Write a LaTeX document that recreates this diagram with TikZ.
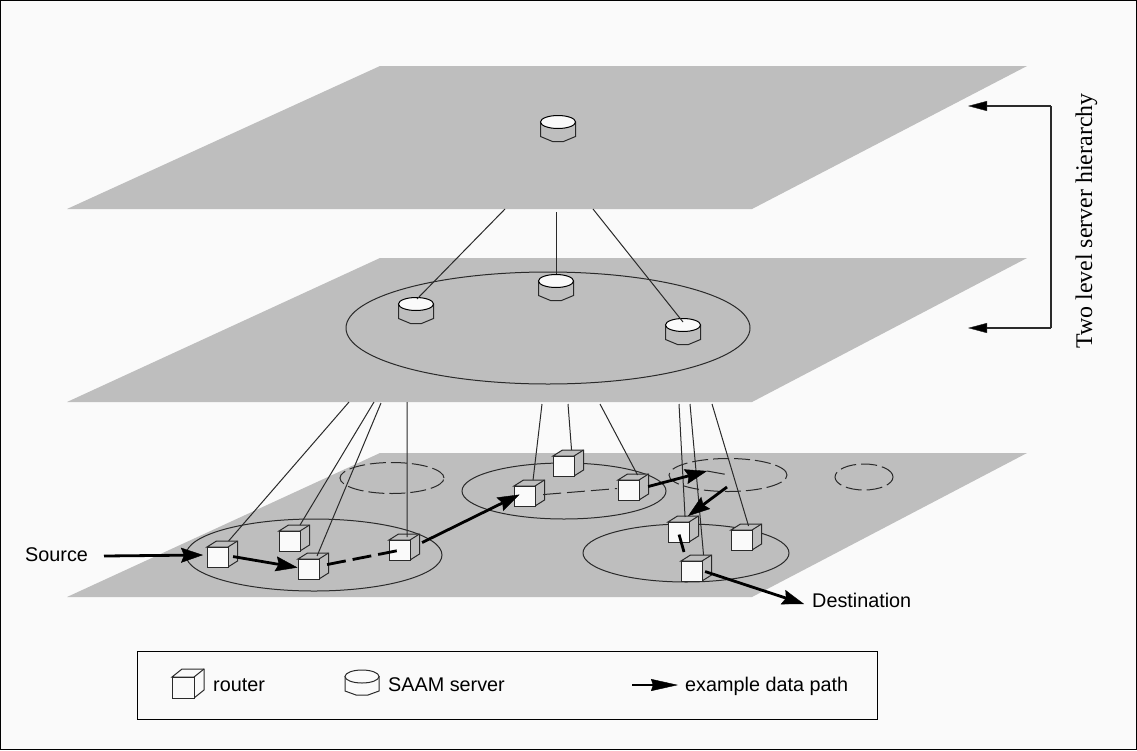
\documentclass[tikz,border=0pt]{standalone}
\usepackage{fontspec}
\setmainfont{Liberation Sans}
\newfontfamily\serifface{Liberation Serif}
\usetikzlibrary{shapes.geometric,arrows.meta,calc}
\definecolor{paper}{HTML}{FAFAFA}
\definecolor{plane}{HTML}{BEBEBE}
\definecolor{ink}{HTML}{2A2A2A}
\tikzset{
  planeshape/.style={fill=plane,draw=none},
  wire/.style={draw=ink,line width=1pt},
  cluster/.style={draw=ink,line width=1pt},
  dashcluster/.style={cluster,dash pattern=on 16pt off 5pt},
  frontface/.style={rectangle,draw=ink,line width=1.1pt,fill=paper,inner sep=0pt,minimum width=21pt,minimum height=20pt},
  srvtop/.style={ellipse,draw=black,line width=1pt,fill=paper,inner sep=0pt,minimum width=35pt,minimum height=13pt},
  datapath/.style={draw=black,line width=2.8pt,-{Stealth[length=22pt,width=15pt,inset=3pt,line width=0.4pt]}},
  legendpath/.style={draw=black,line width=2.6pt,-{Stealth[length=27pt,width=12pt,inset=2pt,line width=0.4pt]}},
  datadash/.style={draw=black,line width=2.8pt,dash pattern=on 19pt off 7pt},
  thindash/.style={draw=ink,line width=1pt,dash pattern=on 18pt off 6pt},
  label/.style={inner sep=0pt,font=\fontsize{19.8}{22}\selectfont},
  bracketarrow/.style={draw=ink,line width=1.1pt,-{Stealth[length=19pt,width=10pt,inset=0pt,line width=0.4pt,fill=black]}},
  box/.style={draw=black,line width=1pt,fill=paper}
}
\newcommand{\cubebox}[3]{%
  \draw[wire,fill=plane] (#2,#3) -- ++(9.5,-6) -- ++(21,0) -- ++(0,20) -- ++(-9.5,6) -- ++(0,-20) -- ++(-21,0) -- cycle;
  \draw[wire] (#2+21,#3) -- ++(9.5,-6);
  \node[frontface,anchor=north west] (#1) at (#2,#3) {};
}
\newcommand{\srvbox}[3]{%
  \draw[wire,fill=plane] (#2-17.5,#3) -- ++(0,14.5) -- ++(12,5) -- ++(11,0) -- ++(12,-5) -- ++(0,-14.5) -- cycle;
  \node[srvtop] (#1) at (#2,#3) {};
}
\begin{document}
\begin{tikzpicture}[x=1pt,y=-1pt]
\useasboundingbox (0,0) rectangle (1137,750);
\draw[draw=black,line width=1pt,fill=paper] (0.5,0.5) rectangle (1136.5,749.5);
% planes
\fill[planeshape] (380,66) -- (1027,66) -- (752,209) -- (67,209) -- cycle;
\fill[planeshape] (380,258) -- (1027,258) -- (752,402) -- (67,402) -- cycle;
\fill[planeshape] (380,453) -- (1027,453) -- (752,597) -- (67,597) -- cycle;
% ellipses
\node[ellipse,cluster,inner sep=0pt,minimum width=404pt,minimum height=112pt] (e0) at (548,328) {};
\node[ellipse,cluster,inner sep=0pt,minimum width=256pt,minimum height=72pt] (e1) at (314,555) {};
\node[ellipse,cluster,inner sep=0pt,minimum width=204pt,minimum height=56pt] (e2) at (564,491) {};
\node[ellipse,cluster,inner sep=0pt,minimum width=206pt,minimum height=58pt] (e3) at (686,553) {};
\node[ellipse,dashcluster,inner sep=0pt,minimum width=104pt,minimum height=31pt] (d1) at (392,478) {};
\node[ellipse,dashcluster,inner sep=0pt,minimum width=118pt,minimum height=33pt] (d2) at (728,475) {};
\node[ellipse,dashcluster,inner sep=0pt,minimum width=58pt,minimum height=26pt] (d3) at (864,477) {};
% servers
\srvbox{s0}{558}{122}
\srvbox{s1}{416}{304}
\srvbox{s2}{556}{281}
\srvbox{s3}{683}{325}
% routers
\cubebox{r1}{207}{547}
\cubebox{r2}{279}{531}
\cubebox{r3}{298}{559}
\cubebox{r4}{389}{540}
\cubebox{r5}{514}{486}
\cubebox{r6}{553}{456}
\cubebox{r7}{618}{480}
\cubebox{r8}{668}{522}
\cubebox{r9}{731}{530}
\cubebox{r10}{681}{561}
% free ends of the links
\coordinate (ua) at (505,209);
\coordinate (ub) at (556,212);
\coordinate (uc) at (593,209);
\coordinate (la) at (349,402);
\coordinate (lb) at (374,402);
\coordinate (lc) at (381,403);
\coordinate (ld) at (407,402);
\coordinate (le) at (542,404);
\coordinate (lf) at (568,404);
\coordinate (lg) at (600,404);
\coordinate (lh) at (679,404);
\coordinate (li) at (690,404);
\coordinate (lj) at (712,404);
\draw[wire] (ua) -- ([shift={(1,2)}]s1.north);
\draw[wire] (ub) -- ([shift={(0,0)}]s2.north);
\draw[wire] (uc) -- ([shift={(0,4)}]s3.north);
\draw[wire] (la) -- ([shift={(10.5,-6)}]r1.north);
\draw[wire] (lb) -- ([shift={(10,-6)}]r2.north);
\draw[wire] (lc) -- ([shift={(8,-3)}]r3.north);
\draw[wire] (ld) -- ([shift={(7,-3)}]r4.north);
\draw[wire] (le) -- ([shift={(8,-6)}]r5.north);
\draw[wire] (lf) -- ([shift={(7.5,-6)}]r6.north);
\draw[wire] (lg) -- ([shift={(8.5,-5)}]r7.north);
\draw[wire] (lh) -- ([shift={(6,-5)}]r8.north);
\draw[wire] (li) -- ([shift={(11.5,-6)}]r10.north);
\draw[wire] (lj) -- ([shift={(6.5,-4)}]r9.north);
% data path
\coordinate (src) at (104,556);
\coordinate (srctip) at (203,555);
\coordinate (w1) at (707,471);
\coordinate (w2) at (729,475);
\coordinate (w3) at (727,487);
\coordinate (w4) at (684,552);
\coordinate (dst) at (804,604);
\draw[datapath] (src) -- (srctip);
\draw[datapath] ([shift={(4,-1)}]r1.east) -- ([shift={(-0.5,-2)}]r3.west);
\draw[datadash] ([shift={(7,-5)}]r3.east) -- ([shift={(-2,0)}]r4.center);
\draw[datapath] ([shift={(11,-8)}]r4.east) -- ([shift={(-5.5,-2)}]r5.center);
\draw[thindash] ([shift={(7,-2)}]r5.east) -- ([shift={(-1,-2)}]r7.west);
\draw[datapath] ([shift={(8,-4)}]r7.east) -- (w1);
\draw[thindash] (w1) -- (w2);
\draw[datapath] (w3) -- ([shift={(9,-6)}]r8.north);
\draw[draw=black,line width=2.8pt] ([shift={(0,2)}]r8.center) -- (w4);
\draw[datapath] ([shift={(2,0)}]r10.east) -- (dst);
% labels
\node[label,anchor=base west] (tsrc) at (25,561) {Source};
\node[label,anchor=base west] (tdst) at (812,607) {Destination};
% hierarchy bracket
\coordinate (b1) at (968,106);
\coordinate (b2) at (968,328);
\draw[bracketarrow] (1051,106) -- (b1);
\draw[bracketarrow] (1051,328) -- (b2);
\draw[draw=ink,line width=1.1pt] (1051,106) -- (1051,328);
\node[inner sep=0pt,rotate=90,anchor=base,font=\serifface\fontsize{23.9}{26}\selectfont] (thier) at (1092,221) {Two level server hierarchy};
% legend
\draw[box] (137,651) rectangle (877,719);
\draw[wire,fill=paper] (172,677) -- ++(10,-8) -- ++(22,0) -- ++(0,21) -- ++(-10,8) -- ++(0,-21) -- ++(-22,0) -- cycle;
\draw[wire] (194,677) -- ++(10,-8);
\node[rectangle,draw=ink,line width=1pt,fill=paper,inner sep=0pt,minimum width=22pt,minimum height=21pt,anchor=north west] (lr) at (172,677) {};
\node[label,anchor=base west] (tr) at (213,691) {router};
\draw[wire,fill=paper] (345,676.5) -- ++(0,14.5) -- ++(11,4) -- ++(12,0) -- ++(11,-4) -- ++(0,-14.5) -- cycle;
\node[ellipse,draw=ink,line width=1pt,fill=paper,inner sep=0pt,minimum width=34pt,minimum height=13pt] (ls) at (362,676.5) {};
\node[label,anchor=base west] (ts) at (388,691) {SAAM server};
\coordinate (pa) at (632,685);
\coordinate (pb) at (678,685);
\draw[legendpath] (pa) -- (pb);
\node[label,anchor=base west] (tp) at (685,691) {example data path};
\end{tikzpicture}
\end{document}
